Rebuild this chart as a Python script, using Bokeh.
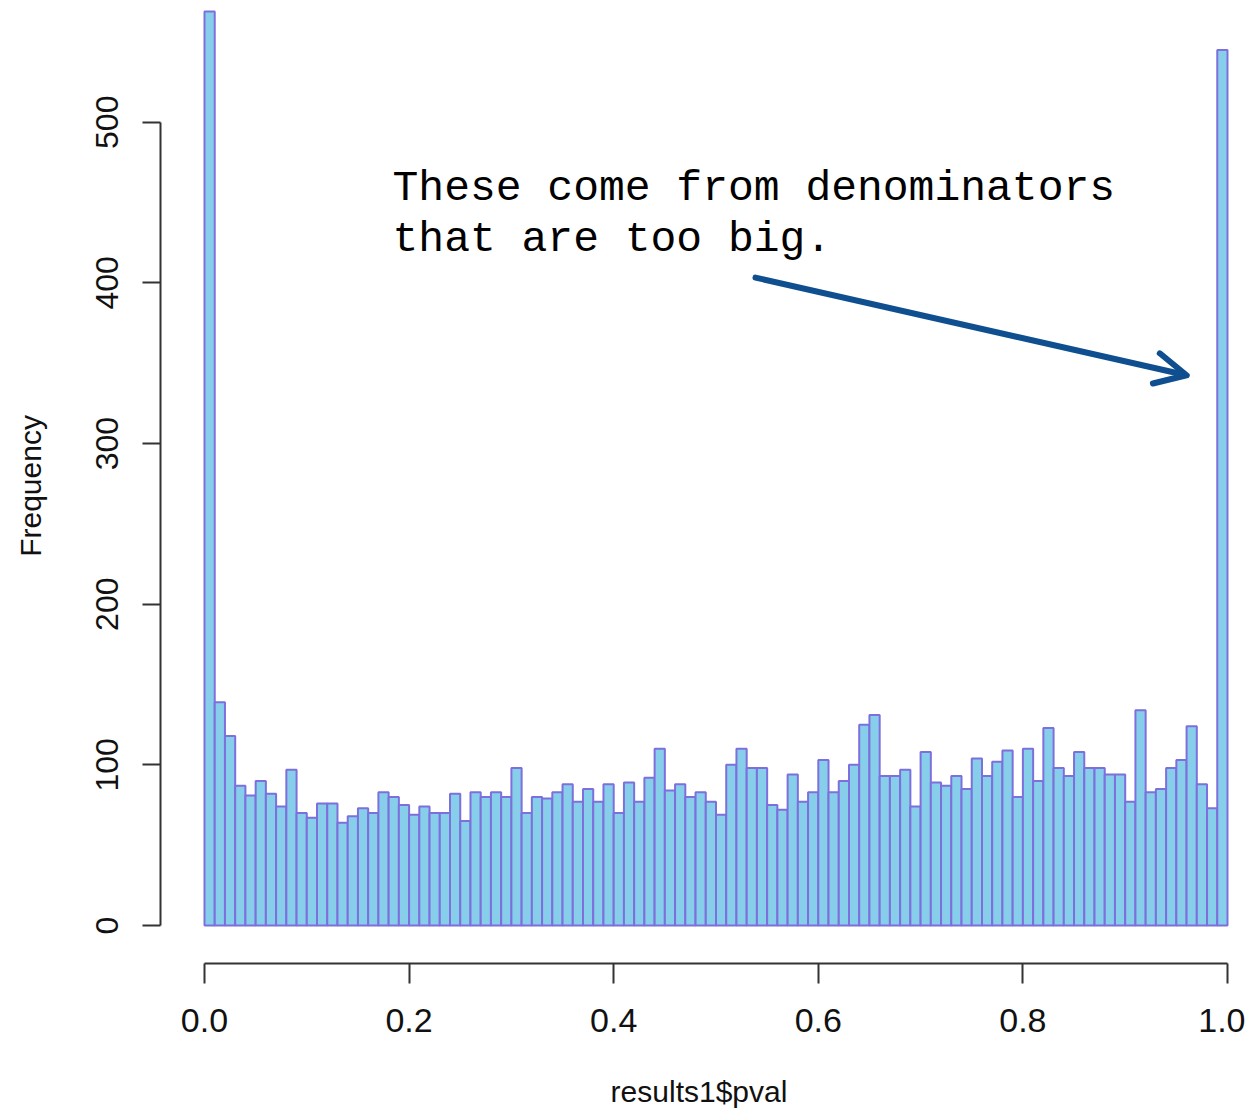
import numpy as np
from bokeh.plotting import figure
from bokeh.models import FixedTicker, Range1d, Arrow, OpenHead, Label, ColumnDataSource
from bokeh.embed import file_html
from bokeh.resources import INLINE

# ---- data (100 bins over [0, 1]) ----
counts = [
    569, 139, 118, 87, 81, 90, 82, 74, 97, 70, 67, 76, 76, 64, 68, 73, 70, 83, 80, 75,
    69, 74, 70, 70, 82, 65, 83, 80, 83, 80, 98, 70, 80, 79, 83, 88, 77, 85, 77, 88,
    70, 89, 77, 92, 110, 84, 88, 80, 83, 77, 69, 100, 110, 98, 98, 75, 72, 94, 77, 83,
    103, 83, 90, 100, 125, 131, 93, 93, 97, 74, 108, 89, 87, 93, 85, 104, 93, 102, 109, 80,
    110, 90, 123, 98, 93, 108, 98, 98, 94, 94, 77, 134, 83, 85, 98, 103, 124, 88, 73, 545,
]
bin_start = 0.0
bin_end = 1.0
x_ticks = [0.0, 0.2, 0.4, 0.6, 0.8, 1.0]
x_tick_labels = ["0.0", "0.2", "0.4", "0.6", "0.8", "1.0"]
y_ticks = [0, 100, 200, 300, 400, 500]
y_tick_labels = ["0", "100", "200", "300", "400", "500"]
x_label = "results1$pval"
y_label = "Frequency"
note_lines = ["These come from denominators", "that are too big."]

edges = np.linspace(bin_start, bin_end, len(counts) + 1)
src = ColumnDataSource(dict(left=edges[:-1], right=edges[1:], top=counts,
                            bottom=[0] * len(counts)))

FILL = "#87CEEB"
EDGE = "#7d6fdc"
AXIS = "#333333"
ARROW = "#0f4f90"

p = figure(width=1245, height=1112, output_backend="svg", toolbar_location=None,
           title=None,
           x_range=Range1d(-0.04301, 1.00978), y_range=Range1d(-23.65, 570.8),
           min_border_left=160, min_border_right=8, min_border_top=8,
           min_border_bottom=149)
p.background_fill_color = "white"
p.border_fill_color = "white"
p.outline_line_color = None
p.grid.visible = False

p.quad(left="left", right="right", top="top", bottom="bottom", source=src,
       fill_color=FILL, line_color=EDGE, line_width=2)

# x axis
xa = p.xaxis[0]
xa.bounds = (bin_start, bin_end)
xa.ticker = FixedTicker(ticks=x_ticks)
xa.major_label_overrides = {t: l for t, l in zip(x_ticks, x_tick_labels)}
xa.minor_tick_line_color = None
xa.major_tick_in = 0
xa.major_tick_out = 20
xa.axis_line_width = 2
xa.major_tick_line_width = 2
xa.axis_line_color = AXIS
xa.major_tick_line_color = AXIS
xa.major_label_text_font = "Liberation Sans"
xa.major_label_text_font_size = "34px"
xa.major_label_text_color = "#111111"
xa.major_label_standoff = 25
xa.axis_label = x_label
xa.axis_label_text_font = "Liberation Sans"
xa.axis_label_text_font_size = "30px"
xa.axis_label_text_font_style = "normal"
xa.axis_label_text_color = "#111111"
xa.axis_label_standoff = 40

# y axis
ya = p.yaxis[0]
ya.bounds = (y_ticks[0], y_ticks[-1])
ya.ticker = FixedTicker(ticks=y_ticks)
ya.major_label_overrides = {t: l for t, l in zip(y_ticks, y_tick_labels)}
ya.minor_tick_line_color = None
ya.major_tick_in = 0
ya.major_tick_out = 18
ya.axis_line_width = 2
ya.major_tick_line_width = 2
ya.axis_line_color = AXIS
ya.major_tick_line_color = AXIS
ya.major_label_orientation = "parallel"
ya.major_label_text_font = "Liberation Sans"
ya.major_label_text_font_size = "32px"
ya.major_label_text_color = "#111111"
ya.major_label_standoff = 24
ya.axis_label = y_label
ya.axis_label_text_font = "Liberation Sans"
ya.axis_label_text_font_size = "30px"
ya.axis_label_text_font_style = "normal"
ya.axis_label_text_color = "#111111"
ya.axis_label_standoff = 47

# annotation text and arrow
note_x = 0.1838
note_y = [458.7, 427.0]
for line, yy in zip(note_lines, note_y):
    p.add_layout(Label(x=note_x, y=yy, text=line, text_font="Liberation Mono",
                       text_font_size="43px", text_baseline="alphabetic",
                       text_align="left", text_color="black"))

p.add_layout(Arrow(end=OpenHead(size=31, line_width=6, line_color=ARROW,
                                line_cap="round", line_join="round"),
                   x_start=0.5386, y_start=403.3, x_end=0.9600, y_end=342.5,
                   line_width=6, line_color=ARROW, line_cap="round"))

open("out.html", "w").write(file_html(p, INLINE))
